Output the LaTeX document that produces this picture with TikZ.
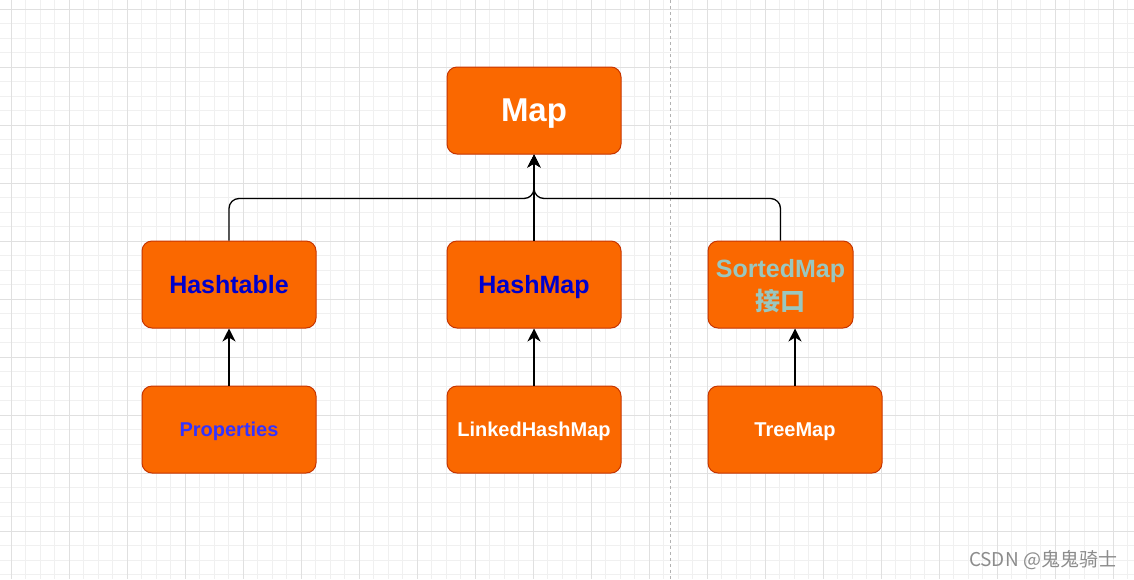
\documentclass[tikz,border=0pt]{standalone}
\usepackage{fontspec}
\setmainfont{Liberation Sans}
\newfontfamily\cjk{Noto Sans CJK SC}
\usepackage{tikz}
\usetikzlibrary{
	calc,
	arrows.meta,
	positioning
	}
\definecolor{fond-orange}{HTML}{FA6800}
\definecolor{bord-orange}{HTML}{C73500}
\definecolor{bleu-fonce}{HTML}{0000CC}
\definecolor{bleu-clair}{HTML}{3333FF}
\definecolor{vert-gris}{HTML}{9AC7BF}
\tikzstyle{boite-std}=[draw=bord-orange,fill=fond-orange,rounded corners=10pt,line width=1pt,minimum width=174pt,minimum height=87pt,inner sep=0pt,text depth=0pt,align=center,font=\bfseries]
\tikzstyle{fleche-std}=[-{Stealth[length=13pt,width=13pt,inset=4pt]},line width=1.3pt,black]
\tikzstyle{grille-fine}=[line width=0.6pt,black!6]
\tikzstyle{grille-forte}=[line width=0.8pt,black!12]

\begin{document}
\begin{tikzpicture}[x=1pt,y=-1pt]
\useasboundingbox (0,0) rectangle (1134,579);
\fill[white] (0,0) rectangle (1134,579);
% grille de fond
\foreach \k in {0,...,77} \draw[grille-fine] ({11+14.5*\k},0) -- ({11+14.5*\k},579);
\foreach \k in {0,...,39} \draw[grille-fine] (0,{9+14.5*\k}) -- (1134,{9+14.5*\k});
\foreach \k in {0,...,19} \draw[grille-forte] ({11+58*\k},0) -- ({11+58*\k},579);
\foreach \k in {0,...,9} \draw[grille-forte] (0,{9+58*\k}) -- (1134,{9+58*\k});
\draw[black!30,line width=0.8pt,dash pattern=on 3pt off 3pt] (670,0) -- (670,579);

\node[boite-std,text=white,font=\bfseries\fontsize{33}{38}\selectfont] (map) at (534,110.5) {Map};
\node[boite-std,text=bleu-fonce,font=\bfseries\fontsize{25}{30}\selectfont] (hashtable) at (229,284.5) {Hashtable};
\node[boite-std,text=bleu-fonce,font=\bfseries\fontsize{25}{30}\selectfont] (hashmap) at (534,284.5) {HashMap};
\node[boite-std,minimum width=145pt,text=vert-gris,font=\bfseries\fontsize{25}{33}\selectfont] (sortedmap) at (780.5,284.5) {SortedMap\\{\cjk\bfseries 接口}};
\node[boite-std,text=bleu-clair,font=\bfseries\fontsize{20}{24}\selectfont] (properties) at (229,429.5) {Properties};
\node[boite-std,text=white,font=\bfseries\fontsize{20}{24}\selectfont] (linkedhashmap) at (534,429.5) {LinkedHashMap};
\node[boite-std,text=white,font=\bfseries\fontsize{20}{24}\selectfont] (treemap) at (795,429.5) {TreeMap};

\draw[fleche-std,rounded corners=10pt] (hashtable.north) |- ($(map.south)+(0,44)$) -- (map.south);
\draw[fleche-std,rounded corners=10pt] (sortedmap.north) |- ($(map.south)+(0,44)$) -- (map.south);
\draw[fleche-std] (hashmap.north) -- (map.south);
\draw[fleche-std] (properties.north) -- (hashtable.south);
\draw[fleche-std] (linkedhashmap.north) -- (hashmap.south);
\draw[fleche-std] (treemap.north) -- (treemap.north |- sortedmap.south);

\node[text=black!45,font=\cjk\fontsize{19}{22}\selectfont] (filigrane) at (1043,560) {CSDN @鬼鬼骑士};
\end{tikzpicture}
\end{document}
